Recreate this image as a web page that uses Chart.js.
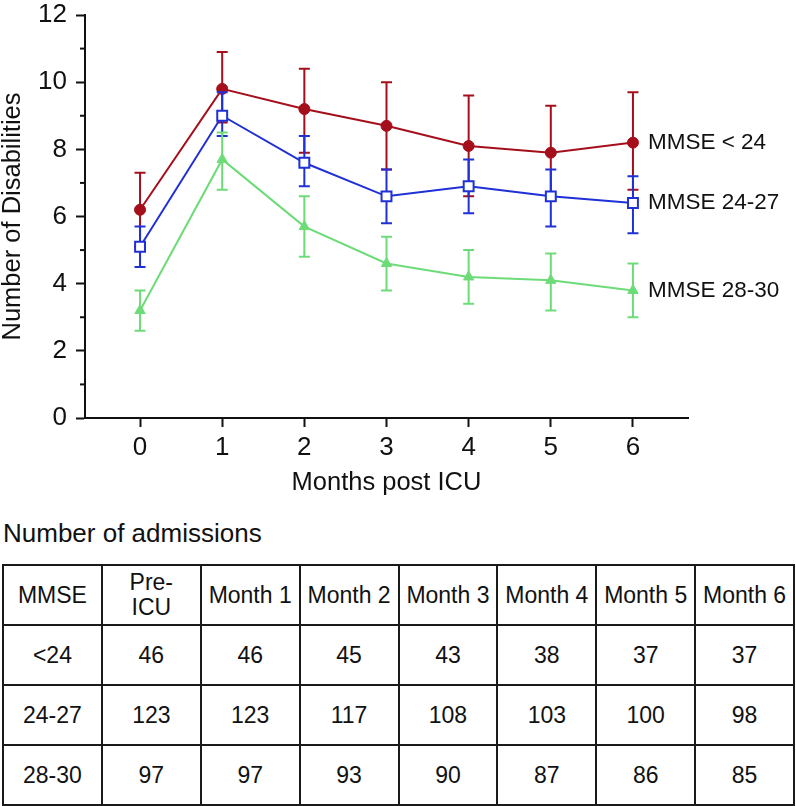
<!DOCTYPE html>
<html>
<head>
<meta charset="utf-8">
<script src="https://cdn.jsdelivr.net/npm/chart.js@4"></script>
<style>
  html, body { margin: 0; padding: 0; background: #fff; }
  body { width: 796px; height: 806px; position: relative; overflow: hidden; font-family: "Liberation Sans", Arial, sans-serif; color: #111; }
  #chartBox { position: absolute; left: 0; top: 0; width: 796px; height: 502px; }
  #tblTitle { position: absolute; left: 3px; top: 518px; font-size: 26px; line-height: 30px; }
  #tbl { position: absolute; left: 2px; top: 564px; border-collapse: collapse; table-layout: fixed; width: 793px; }
  #tbl td { border: 2px solid #1a1a1a; text-align: center; vertical-align: middle; font-size: 23px; height: 58px; padding: 0; line-height: 25px; }
</style>
</head>
<body>
<div id="chartBox"><canvas id="c" width="796" height="502"></canvas></div>
<div id="tblTitle">Number of admissions</div>
<table id="tbl"></table>
<script>
// ---- data ----
const months = [0, 1, 2, 3, 4, 5, 6];
const seriesNames = ["MMSE < 24", "MMSE 24-27", "MMSE 28-30"];
const meanLow = [6.2, 9.8, 9.2, 8.7, 8.1, 7.9, 8.2];
const upperLow = [7.3, 10.9, 10.4, 10.0, 9.6, 9.3, 9.7];
const lowerLow = [5.1, 8.8, 7.9, 7.4, 6.6, 6.5, 6.8];
const meanMid = [5.1, 9.0, 7.6, 6.6, 6.9, 6.6, 6.4];
const upperMid = [5.7, 9.7, 8.4, 7.4, 7.7, 7.4, 7.2];
const lowerMid = [4.5, 8.4, 6.9, 5.8, 6.1, 5.7, 5.5];
const meanHigh = [3.2, 7.7, 5.7, 4.6, 4.2, 4.1, 3.8];
const upperHigh = [3.8, 8.5, 6.6, 5.4, 5.0, 4.9, 4.6];
const lowerHigh = [2.6, 6.8, 4.8, 3.8, 3.4, 3.2, 3.0];
const yTicks = [0, 2, 4, 6, 8, 10, 12];

const tableHeader = ["MMSE", "Pre-<br>ICU", "Month 1", "Month 2", "Month 3", "Month 4", "Month 5", "Month 6"];
const tableGroups = ["<24", "24-27", "28-30"];
const admitsLow = [46, 46, 45, 43, 38, 37, 37];
const admitsMid = [123, 123, 117, 108, 103, 100, 98];
const admitsHigh = [97, 97, 93, 90, 87, 86, 85];

// ---- table ----
(function () {
  const t = document.getElementById('tbl');
  let html = '<colgroup>' + tableHeader.map(() => '<col style="width:12.5%">').join('') + '</colgroup>';
  html += '<tr>' + tableHeader.map(h => '<td>' + h + '</td>').join('') + '</tr>';
  const rows = [admitsLow, admitsMid, admitsHigh];
  rows.forEach((r, i) => {
    html += '<tr><td>' + tableGroups[i].replace('<', '&lt;') + '</td>' + r.map(v => '<td>' + v + '</td>').join('') + '</tr>';
  });
  t.innerHTML = html;
})();

// ---- chart ----
const RED = '#a50f1c', BLUE = '#1f30d6', GREEN = '#6ddc78';
const FONT = "'Liberation Sans', Arial, sans-serif";
const toXY = arr => arr.map((v, i) => ({ x: months[i], y: v }));

const errors = [
  { lo: lowerLow, hi: upperLow, color: RED },
  { lo: lowerMid, hi: upperMid, color: BLUE },
  { lo: lowerHigh, hi: upperHigh, color: GREEN }
];

const errorBarPlugin = {
  id: 'errorBars',
  beforeDatasetDraw(chart, args) {
    const e = errors[args.index];
    const xs = chart.scales.x, ys = chart.scales.y;
    const ctx = chart.ctx;
    ctx.save();
    ctx.strokeStyle = e.color;
    ctx.lineWidth = 2;
    months.forEach((m, i) => {
      const px = xs.getPixelForValue(m);
      const y1 = ys.getPixelForValue(e.lo[i]);
      const y2 = ys.getPixelForValue(e.hi[i]);
      ctx.beginPath();
      ctx.moveTo(px, y1); ctx.lineTo(px, y2);
      ctx.moveTo(px - 5.5, y1); ctx.lineTo(px + 5.5, y1);
      ctx.moveTo(px - 5.5, y2); ctx.lineTo(px + 5.5, y2);
      ctx.stroke();
    });
    ctx.restore();
  }
};

const extrasPlugin = {
  id: 'extras',
  afterDraw(chart) {
    const xs = chart.scales.x, ys = chart.scales.y;
    const ctx = chart.ctx;
    ctx.save();
    // minor y ticks
    ctx.strokeStyle = '#111';
    ctx.lineWidth = 2;
    for (let v = 1; v < 12; v += 2) {
      const py = ys.getPixelForValue(v);
      ctx.beginPath();
      ctx.moveTo(chart.chartArea.left - 5, py);
      ctx.lineTo(chart.chartArea.left, py);
      ctx.stroke();
    }
    // series labels at right
    ctx.fillStyle = '#111';
    ctx.font = "22.5px " + FONT;
    ctx.textBaseline = 'middle';
    ctx.textAlign = 'left';
    const lastIdx = months.length - 1;
    const lastVals = [meanLow[lastIdx], meanMid[lastIdx], meanHigh[lastIdx]];
    lastVals.forEach((v, i) => {
      ctx.fillText(seriesNames[i], xs.getPixelForValue(months[lastIdx]) + 15, ys.getPixelForValue(v));
    });
    ctx.restore();
  }
};

new Chart(document.getElementById('c'), {
  type: 'line',
  data: {
    datasets: [
      { label: seriesNames[0], data: toXY(meanLow), borderColor: RED, backgroundColor: RED, borderWidth: 2,
        pointStyle: 'circle', pointRadius: 5.5, pointBackgroundColor: RED, pointBorderColor: RED, pointBorderWidth: 1, order: 3 },
      { label: seriesNames[1], data: toXY(meanMid), borderColor: BLUE, backgroundColor: BLUE, borderWidth: 2,
        pointStyle: 'rect', pointRadius: 7, pointBackgroundColor: '#ffffff', pointBorderColor: BLUE, pointBorderWidth: 2, order: 2 },
      { label: seriesNames[2], data: toXY(meanHigh), borderColor: GREEN, backgroundColor: GREEN, borderWidth: 2,
        pointStyle: 'triangle', pointRadius: 6, pointBackgroundColor: GREEN, pointBorderColor: GREEN, pointBorderWidth: 1, order: 1 }
    ]
  },
  options: {
    responsive: false,
    animation: false,
    devicePixelRatio: 1,
    layout: { padding: { top: 15, right: 108, left: 0, bottom: 0 } },
    plugins: { legend: { display: false }, tooltip: { enabled: false } },
    elements: { line: { tension: 0 } },
    scales: {
      x: {
        type: 'linear',
        min: -0.67, max: 6.67,
        afterFit: s => { s.height = 84; s.paddingLeft = 0; s.paddingRight = 0; },
        ticks: { stepSize: 1, includeBounds: false, color: '#111', font: { family: FONT, size: 26 }, padding: 5,
                 callback: v => (Number.isInteger(v) && months.includes(v)) ? String(v) : '' },
        grid: { display: true, drawOnChartArea: false, tickLength: 9, tickColor: '#111', tickWidth: 2 },
        border: { display: true, color: '#111', width: 2 },
        title: { display: true, text: 'Months post ICU', color: '#111', font: { family: FONT, size: 25.5 }, padding: { top: 4, bottom: 4 } }
      },
      y: {
        min: 0, max: 12,
        afterFit: s => { s.width = 85; s.paddingTop = 0; s.paddingBottom = 0; },
        ticks: { stepSize: 2, color: '#111', font: { family: FONT, size: 26 }, padding: 9,
                 callback: v => yTicks.includes(v) ? String(v) : '' },
        grid: { display: true, drawOnChartArea: false, tickLength: 9, tickColor: '#111', tickWidth: 2 },
        border: { display: true, color: '#111', width: 2 },
        title: { display: true, text: 'Number of Disabilities', color: '#111', font: { family: FONT, size: 25.5 }, padding: { top: -2, bottom: 0 } }
      }
    }
  },
  plugins: [errorBarPlugin, extrasPlugin]
});
</script>
</body>
</html>
